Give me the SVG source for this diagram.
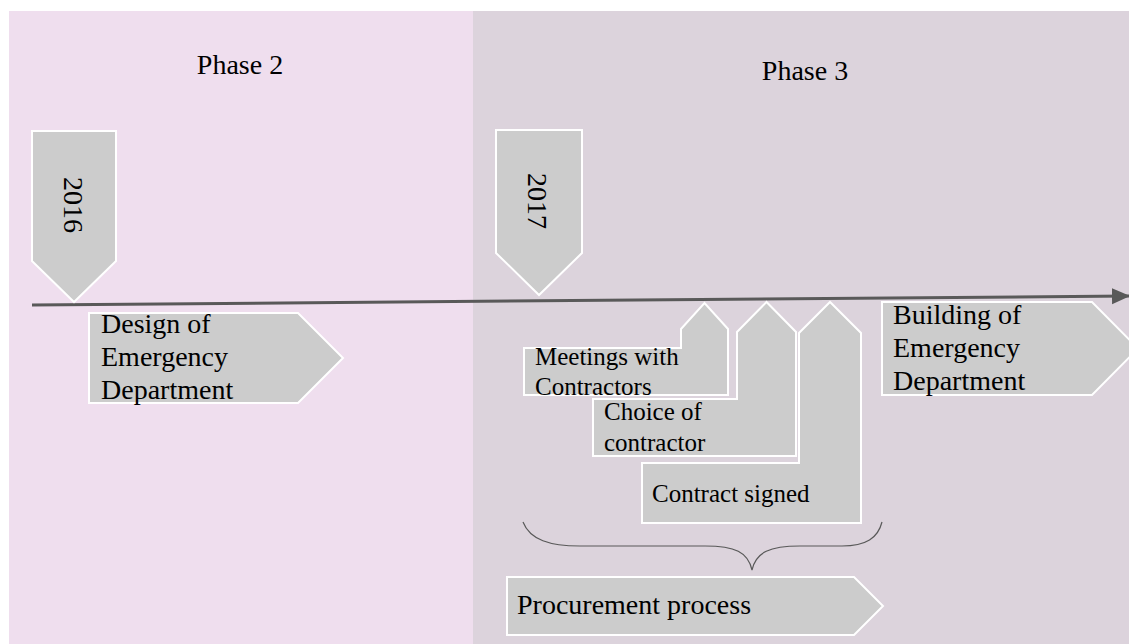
<svg xmlns="http://www.w3.org/2000/svg" width="1129" height="644" viewBox="0 0 1129 644">
  <style>
    .t { font-family: "Liberation Serif", "Times New Roman", serif; fill: #000; }
    .big { font-size: 28px; }
    .small { font-size: 25px; }
    .shape { fill: #cccccc; stroke: #ffffff; stroke-width: 2; stroke-linejoin: miter; }
    .axis { stroke: #595959; stroke-width: 3; fill: none; }
    .brace { stroke: #595959; stroke-width: 1.2; fill: none; }
  </style>
  <defs>
    <marker id="arrow" markerUnits="userSpaceOnUse" markerWidth="18" markerHeight="18" viewBox="0 0 18 18" refX="17" refY="9" orient="auto">
      <path d="M0,1 L18,9 L0,17 Z" fill="#595959"/>
    </marker>
  </defs>

  <!-- page background and phase bands -->
  <rect x="0" y="0" width="1129" height="644" fill="#ffffff"/>
  <g id="phase2">
    <rect x="9" y="11" width="464" height="633" fill="#efdeee"/>
    <text class="t big" x="240" y="74" text-anchor="middle">Phase 2</text>
  </g>
  <g id="phase3">
    <rect x="473" y="11" width="656" height="633" fill="#dcd3dc"/>
    <text class="t big" x="805" y="80" text-anchor="middle">Phase 3</text>
  </g>

  <!-- timeline and brace -->
  <g id="connectors">
    <line class="axis" x1="32" y1="305" x2="1129" y2="296" marker-end="url(#arrow)"/>
    <path class="brace" d="M523,522 C530,540 550,546 580,546 L705,546 C735,546 748,552 752,570 C756,552 770,546 800,546 L842,546 C866,546 878,538 882,522"/>
  </g>

  <!-- year markers -->
  <g id="y2016">
    <path class="shape" d="M32,131 L116,131 L116,261 L74,302 L32,261 Z"/>
    <text class="t big" transform="translate(64,205) rotate(90)" text-anchor="middle">2016</text>
  </g>
  <g id="y2017">
    <path class="shape" d="M496,130 L582,130 L582,253 L539,295 L496,253 Z"/>
    <text class="t big" transform="translate(528,201) rotate(90)" text-anchor="middle">2017</text>
  </g>

  <!-- phase activities -->
  <g id="design">
    <path class="shape" d="M89,313 L298,313 L343,358 L298,403 L89,403 Z"/>
    <text class="t big" x="101" y="333">Design of</text>
    <text class="t big" x="101" y="366">Emergency</text>
    <text class="t big" x="101" y="399">Department</text>
  </g>
  <g id="building">
    <path class="shape" d="M882,302 L1092,302 L1138,348.5 L1092,395 L882,395 Z"/>
    <text class="t big" x="893" y="324">Building of</text>
    <text class="t big" x="893" y="357">Emergency</text>
    <text class="t big" x="893" y="390">Department</text>
  </g>

  <!-- procurement steps -->
  <g id="meetings">
    <path class="shape" d="M524,348 L681,348 L681,329 L704.5,303 L728,329 L728,395 L524,395 Z"/>
    <text class="t small" x="535" y="365">Meetings with</text>
    <text class="t small" x="535" y="395">Contractors</text>
  </g>
  <g id="choice">
    <path class="shape" d="M593,399 L737,399 L737,332 L766.5,302 L796,332 L796,456 L593,456 Z"/>
    <text class="t small" x="604" y="420">Choice of</text>
    <text class="t small" x="604" y="451">contractor</text>
  </g>
  <g id="contract">
    <path class="shape" d="M642,463 L799,463 L799,333 L830,302 L861,333 L861,523 L642,523 Z"/>
    <text class="t small" x="652" y="502">Contract signed</text>
  </g>
  <g id="procurement">
    <path class="shape" d="M507,577 L854,577 L883,606 L854,635 L507,635 Z"/>
    <text class="t big" x="517" y="614">Procurement process</text>
  </g>
</svg>
